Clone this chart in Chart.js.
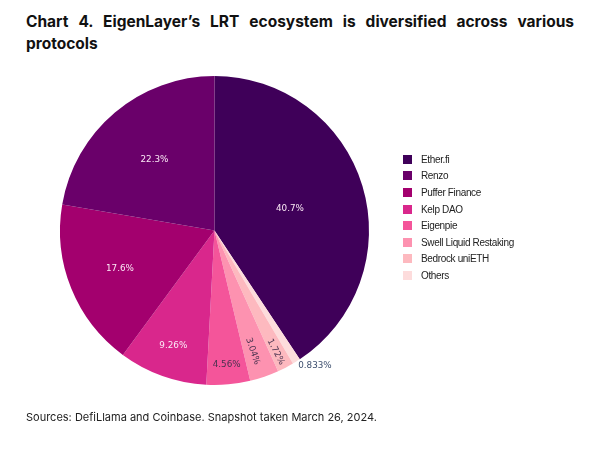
<!DOCTYPE html>
<html>
<head>
<meta charset="utf-8">
<title>EigenLayer LRT ecosystem</title>
<script src="https://cdn.jsdelivr.net/npm/chart.js@4"></script>
<style>
  html, body { margin: 0; padding: 0; background: #fff; }
  #page { position: relative; width: 600px; height: 453px; overflow: hidden; }
  #pie { position: absolute; left: 0; top: 0; }
  #title {
    position: absolute; left: 26px; top: 11px; width: 548px; margin: 0;
    font: 700 15.5px/22px Inter, sans-serif; color: #111;
  }
  #title span { display: block; text-align: justify; text-align-last: justify; }
  #source {
    position: absolute; left: 26px; top: 410px;
    font: 11px/14px Inter, sans-serif; color: #222;
  }
  #legend { position: absolute; left: 403px; top: 151px; }
  .row { height: 16.6px; display: flex; align-items: center; font: 10px "Liberation Sans", sans-serif; color: #222; letter-spacing: -0.35px; }
  .box { width: 9px; height: 9px; margin-right: 9px; }
</style>
</head>
<body>
<div id="page">
  <p id="title"><span>Chart 4. EigenLayer’s LRT ecosystem is diversified across various</span>protocols</p>
  <canvas id="pie" width="600" height="453"></canvas>
  <div id="legend"></div>
  <div id="source">Sources: DefiLlama and Coinbase. Snapshot taken March 26, 2024.</div>
</div>
<script>
"use strict";

// legend order
var categories = ['Ether.fi', 'Renzo', 'Puffer Finance', 'Kelp DAO', 'Eigenpie', 'Swell Liquid Restaking', 'Bedrock uniETH', 'Others'];
var shares = [40.7, 22.3, 17.6, 9.26, 4.56, 3.04, 1.72, 0.833];
var shareLabels = ['40.7%', '22.3%', '17.6%', '9.26%', '4.56%', '3.04%', '1.72%', '0.833%'];
var colors = ['#3f0059', '#6a006a', '#a3006e', '#d9278c', '#f4559a', '#fd92b0', '#fdb9bf', '#fddcdc'];

// the pie runs the other way round from the legend after the first slice
function pieOrder(list) {
  return [list[0]].concat(list.slice(1).reverse());
}

// label placement in legend order: share of the radius, turn off the slice middle in degrees
var labelRadius = [0.508, 0.603, 0.66, 0.79, 0.874, 0.82, 0.88, 1.09];
var labelTurn = [0.8, 0, 0, 0, 0, 1.3, 0.6, -4.6];
var labelRotated = [false, false, false, false, false, true, true, false];
var labelColor = ['#fbe8f5', '#fbe8f5', '#fbe8f5', '#fbe8f5', '#4a3350', '#4a3350', '#4a3350', '#3d4f6e'];

var sliceLabels = {
  id: 'sliceLabels',
  afterDatasetsDraw: function (chart) {
    var ctx = chart.ctx;
    var arcs = chart.getDatasetMeta(0).data;
    var texts = pieOrder(shareLabels);
    var radii = pieOrder(labelRadius);
    var turns = pieOrder(labelTurn);
    var rotated = pieOrder(labelRotated);
    var inks = pieOrder(labelColor);
    arcs.forEach(function (arc, i) {
      var mid = (arc.startAngle + arc.endAngle) / 2;
      var at = mid + turns[i] * Math.PI / 180;
      var r = arc.outerRadius * radii[i];
      ctx.save();
      ctx.translate(arc.x + Math.cos(at) * r, arc.y + Math.sin(at) * r);
      if (rotated[i]) ctx.rotate(mid);
      ctx.font = '8.8px "DejaVu Sans", sans-serif';
      ctx.fillStyle = inks[i];
      ctx.textAlign = 'center';
      ctx.textBaseline = 'middle';
      ctx.fillText(texts[i], 0, 0);
      ctx.restore();
    });
  }
};

new Chart(document.getElementById('pie').getContext('2d'), {
  type: 'pie',
  data: {
    labels: pieOrder(categories),
    datasets: [{
      data: pieOrder(shares),
      backgroundColor: pieOrder(colors),
      borderWidth: 0
    }]
  },
  options: {
    responsive: false,
    animation: false,
    layout: { padding: { left: 60, top: 76, right: 231, bottom: 68 } },
    plugins: {
      legend: { display: false },
      tooltip: { enabled: false }
    }
  },
  plugins: [sliceLabels]
});

var legendBox = document.getElementById('legend');
categories.forEach(function (name, i) {
  var row = document.createElement('div');
  row.className = 'row';
  var box = document.createElement('span');
  box.className = 'box';
  box.style.background = colors[i];
  row.appendChild(box);
  row.appendChild(document.createTextNode(name));
  legendBox.appendChild(row);
});
</script>
</body>
</html>
